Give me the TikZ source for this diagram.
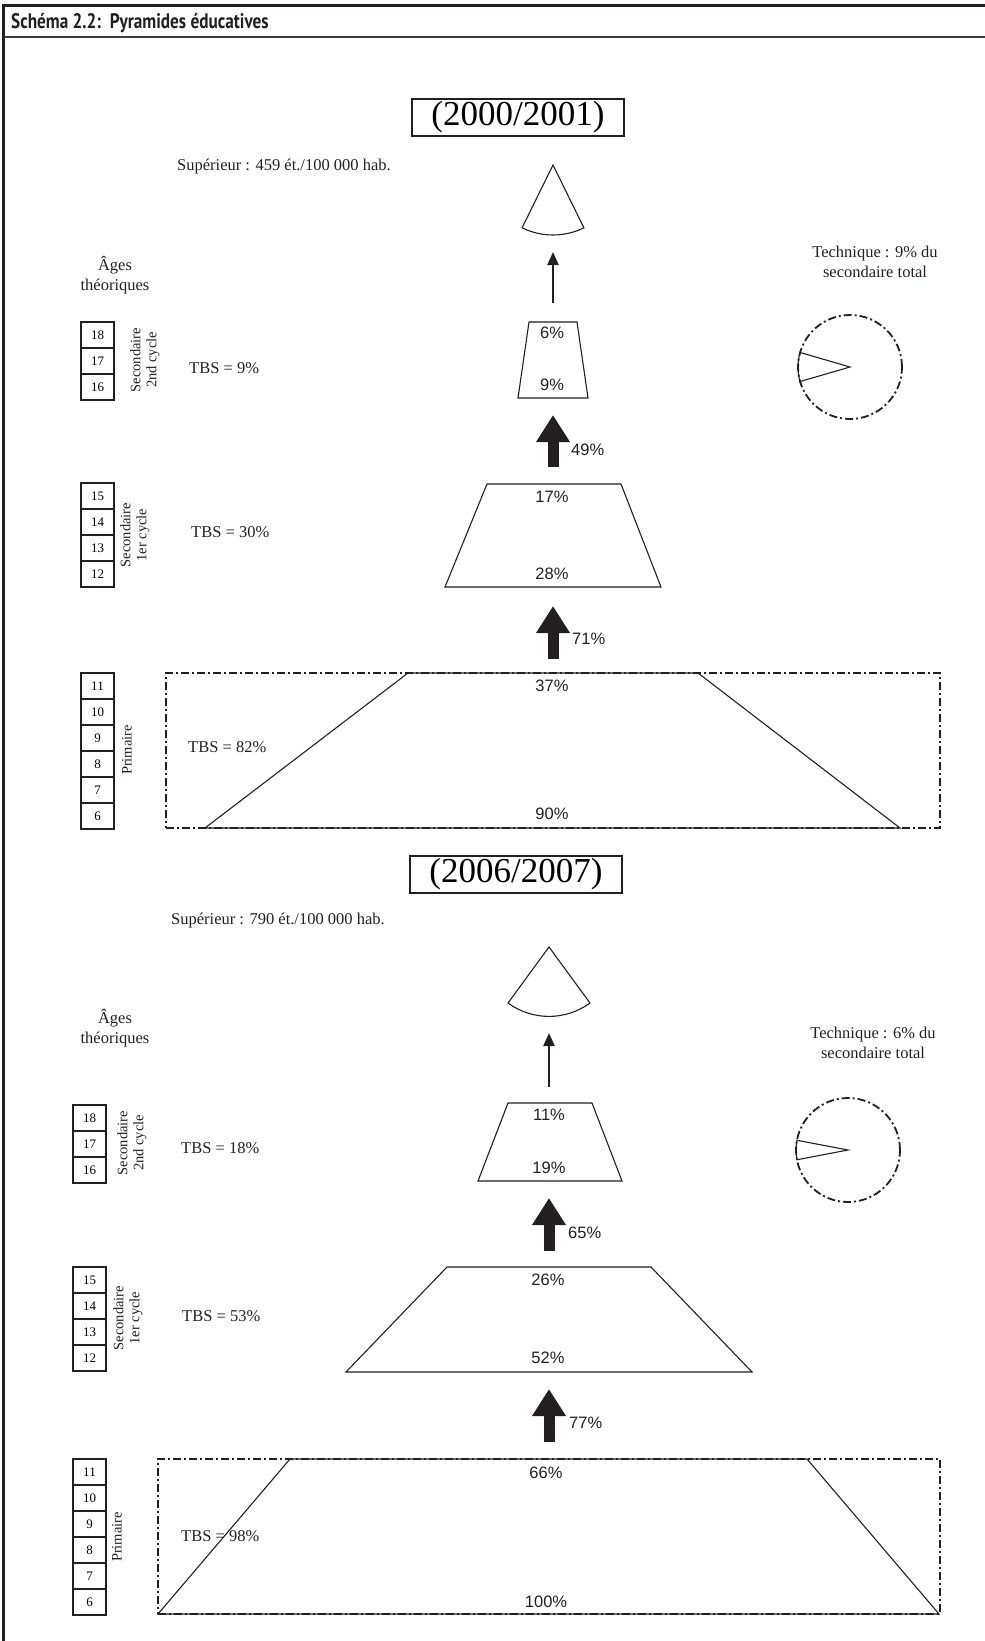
\documentclass[tikz,border=0pt]{standalone}
\usepackage{fontspec}
\setmainfont{Liberation Serif}
\newfontfamily\pctfont{Liberation Sans}
\newfontfamily\titlefont{PT Sans}[FakeStretch=0.82]
\usetikzlibrary{arrows.meta}
\definecolor{inkblack}{HTML}{231F20}
\definecolor{rulegray}{HTML}{3C3C3C}
\tikzset{
  lbl/.style={font=\fontsize{16.5}{20.5}\selectfont, inner sep=0pt, text=inkblack},
  pct/.style={font=\pctfont\fontsize{16.5}{20}\selectfont, inner sep=0pt, text=inkblack},
  agebox/.style={draw=inkblack, line width=1.3pt, minimum width=33pt,
    minimum height=26pt, inner sep=0pt, font=\fontsize{13}{15}\selectfont},
  yearbox/.style={draw=inkblack, line width=1.1pt, minimum width=212pt,
    minimum height=37pt, inner sep=0pt, font=\fontsize{35}{36}\selectfont},
  cyclelabel/.style={lbl, rotate=90, align=center, font=\fontsize{14.5}{16}\selectfont},
  level/.style={draw=inkblack, line width=1.1pt, line join=miter},
  dashframe/.style={draw=inkblack, line width=1.8pt,
    dash pattern=on 8pt off 3pt on 2pt off 3pt},
  fatarrow/.style={draw=inkblack, line width=11pt, -{Triangle[width=32pt,length=27pt]}},
  thinarrow/.style={draw=inkblack, line width=2pt, -{Triangle[width=11pt,length=13pt]}}
}

\begin{document}
\begin{tikzpicture}[x=1pt, y=1pt]
  \useasboundingbox (0,0) rectangle (985,-1641);
  \draw[inkblack, line width=3pt] (985,-5) -- (3,-5) -- (3,-1641);
  \draw[rulegray, line width=1.5pt] (4,-37) -- (985,-37);
  \node[anchor=base west, inner sep=0pt, text=inkblack,
        font=\titlefont\bfseries\fontsize{21}{24}\selectfont] (title) at (11,-28)
    {Schéma 2.2:\ \ Pyramides éducatives};

  % 2000/2001
  \node[yearbox] (year1) at (518,-117.5) {(2000/2001)};
  \node[lbl, anchor=west] (sup1) at (177,-167) {Supérieur : 459 ét./100 000 hab.};
  \draw[level] (553,-165) -- ++(243.8:70) arc[start angle=243.8, end angle=296.2, radius=70pt] -- cycle;
  \coordinate (sup1base) at (553,-235);

  \node[lbl, align=center] (tech1) at (875,-262) {Technique : 9\% du\\secondaire total};
  \node[dashframe, circle, minimum size=104pt, inner sep=0pt] (pie1) at (850,-367) {};
  \draw[level] (pie1.center) -- ++(163.8:52) arc[start angle=163.8, end angle=196.2, radius=52pt] -- cycle;

  \node[lbl, align=center] (ages1) at (115,-275) {Âges\\théoriques};
  \foreach \age [count=\i] in {18,17,16}
    \node[agebox] (ageA\age) at (97.5,{-309-26*\i}) {\age};
  \foreach \age [count=\i] in {15,14,13,12}
    \node[agebox] (ageA\age) at (97.5,{-470-26*\i}) {\age};
  \foreach \age [count=\i] in {11,10,9,8,7,6}
    \node[agebox] (ageA\age) at (97.5,{-660-26*\i}) {\age};
  \node[cyclelabel] (cycleA2) at (145,-360) {Secondaire\\2nd cycle};
  \node[cyclelabel] (cycleA1) at (135,-535) {Secondaire\\1er cycle};
  \node[cyclelabel] (cycleAp) at (127,-750) {Primaire};

  \node[lbl, anchor=west] (tbsA2) at (189,-368) {TBS = 9\%};
  \node[lbl, anchor=west] (tbsA1) at (191,-532) {TBS = 30\%};
  \node[lbl, anchor=west] (tbsAp) at (188,-747) {TBS = 82\%};

  \node[dashframe, minimum width=774pt, minimum height=155pt, inner sep=0pt] (primA) at (553,-750.5) {};
  \draw[level] (518,-398) -- (529,-322) -- (577,-322) -- (588,-398) -- cycle;
  \draw[level] (445,-587) -- (487,-484) -- (621,-484) -- (661,-587) -- cycle;
  \draw[level] (205,-828) -- (408,-673) -- (698,-673) -- (900,-828) -- cycle;
  \coordinate (trapA2top) at (553,-322);
  \coordinate (trapA2bot) at (553,-398);
  \coordinate (trapA1top) at (553,-484);
  \coordinate (trapA1bot) at (553,-587);
  \coordinate (trapAptop) at (553,-673);

  \node[pct] (pA6) at (552,-333) {6\%};
  \node[pct] (pA9) at (552,-385) {9\%};
  \node[pct] (pA17) at (552,-497) {17\%};
  \node[pct] (pA28) at (552,-574) {28\%};
  \node[pct] (pA37) at (552,-686) {37\%};
  \node[pct] (pA90) at (552,-814) {90\%};

  \draw[thinarrow, shorten <=19pt, shorten >=17pt] (trapA2top) -- (sup1base);
  \draw[fatarrow, shorten <=17pt, shorten >=17pt] (trapA1top) -- (trapA2bot);
  \draw[fatarrow, shorten <=14pt, shorten >=19pt] (trapAptop) -- (trapA1bot);
  \node[pct, anchor=west] (rA49) at (571,-450) {49\%};
  \node[pct, anchor=west] (rA71) at (572,-639) {71\%};

  % 2006/2007
  \node[yearbox] (year2) at (516,-874.5) {(2006/2007)};
  \node[lbl, anchor=west] (sup2) at (171,-921) {Supérieur : 790 ét./100 000 hab.};
  \draw[level] (549,-947) -- ++(233.8:69.4) arc[start angle=233.8, end angle=306.2, radius=69.4pt] -- cycle;
  \coordinate (sup2base) at (549,-1016);

  \node[lbl, align=center] (tech2) at (873,-1043) {Technique : 6\% du\\secondaire total};
  \node[dashframe, circle, minimum size=104pt, inner sep=0pt] (pie2) at (848,-1150) {};
  \draw[level] (pie2.center) -- ++(169.2:52) arc[start angle=169.2, end angle=190.8, radius=52pt] -- cycle;

  \node[lbl, align=center] (ages2) at (115,-1028) {Âges\\théoriques};
  \foreach \age [count=\i] in {18,17,16}
    \node[agebox] (ageB\age) at (89.5,{-1092-26*\i}) {\age};
  \foreach \age [count=\i] in {15,14,13,12}
    \node[agebox] (ageB\age) at (89.5,{-1254-26*\i}) {\age};
  \foreach \age [count=\i] in {11,10,9,8,7,6}
    \node[agebox] (ageB\age) at (89.5,{-1446-26*\i}) {\age};
  \node[cyclelabel] (cycleB2) at (132,-1143) {Secondaire\\2nd cycle};
  \node[cyclelabel] (cycleB1) at (128,-1318) {Secondaire\\1er cycle};
  \node[cyclelabel] (cycleBp) at (117,-1537) {Primaire};

  \node[lbl, anchor=west] (tbsB2) at (181,-1148) {TBS = 18\%};
  \node[lbl, anchor=west] (tbsB1) at (182,-1316) {TBS = 53\%};
  \node[lbl, anchor=west] (tbsBp) at (181,-1536) {TBS = 98\%};

  \node[dashframe, minimum width=782pt, minimum height=155pt, inner sep=0pt] (primB) at (549,-1536.5) {};
  \draw[level] (478,-1181) -- (508,-1103) -- (592,-1103) -- (622,-1181) -- cycle;
  \draw[level] (346,-1372) -- (447,-1267) -- (651,-1267) -- (752,-1372) -- cycle;
  \draw[level] (158,-1614) -- (290,-1459) -- (807,-1459) -- (939,-1614) -- cycle;
  \coordinate (trapB2top) at (549,-1103);
  \coordinate (trapB2bot) at (549,-1181);
  \coordinate (trapB1top) at (549,-1267);
  \coordinate (trapB1bot) at (549,-1372);
  \coordinate (trapBptop) at (549,-1459);

  \node[pct] (pB11) at (549,-1115) {11\%};
  \node[pct] (pB19) at (549,-1168) {19\%};
  \node[pct] (pB26) at (548,-1280) {26\%};
  \node[pct] (pB52) at (548,-1358) {52\%};
  \node[pct] (pB66) at (546,-1473) {66\%};
  \node[pct] (pB100) at (546,-1602) {100\%};

  \draw[thinarrow, shorten <=16pt, shorten >=17pt] (trapB2top) -- (sup2base);
  \draw[fatarrow, shorten <=16pt, shorten >=17pt] (trapB1top) -- (trapB2bot);
  \draw[fatarrow, shorten <=17pt, shorten >=17pt] (trapBptop) -- (trapB1bot);
  \node[pct, anchor=west] (rB65) at (568,-1233) {65\%};
  \node[pct, anchor=west] (rB77) at (569,-1423) {77\%};
\end{tikzpicture}
\end{document}
